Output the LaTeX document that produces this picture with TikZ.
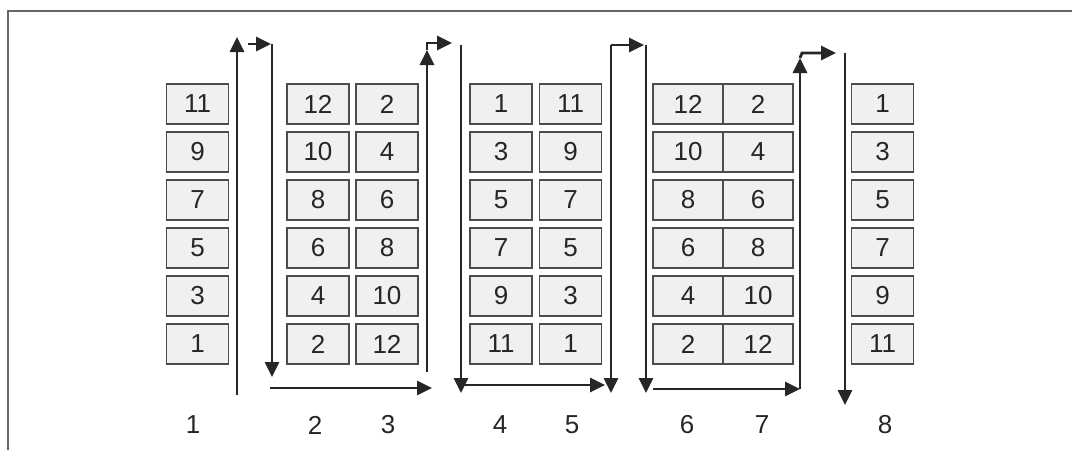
\documentclass[tikz,border=0pt]{standalone}
\usepackage{fontspec}
\setmainfont{Liberation Sans}
\usetikzlibrary{arrows.meta}
\begin{document}
\begin{tikzpicture}[x=1pt,y=-1pt,
  cell/.style={draw=black!70, line width=1.7pt, fill=black!6, minimum height=40pt, inner sep=0pt,
    font=\fontsize{26}{30}\selectfont, text=black!85},
  narrow/.style={cell, minimum width=62pt},
  wide/.style={cell, minimum width=70pt},
  lbl/.style={font=\fontsize{26}{30}\selectfont, text=black!85, inner sep=0pt},
  flow/.style={draw=black!85, line width=2.8pt, line join=miter},
  tip/.style={flow, -{Triangle[length=15pt,width=14pt]}},
  frame/.style={draw=black!60, line width=1.6pt}]
\useasboundingbox (0,0) rectangle (1072,450);
\draw[frame] (8,450) -- (8,11) -- (1072,11);
% columns of cells
\foreach \c/\x/\sty/\list in {1/197.5/narrow/{11,9,7,5,3,1},
                                2/318/narrow/{12,10,8,6,4,2},
                                3/387/narrow/{2,4,6,8,10,12},
                                4/501/narrow/{1,3,5,7,9,11},
                                5/570.5/narrow/{11,9,7,5,3,1},
                                6/688/wide/{12,10,8,6,4,2},
                                7/758/wide/{2,4,6,8,10,12},
                                8/882.5/narrow/{1,3,5,7,9,11}}{
  \foreach \v [count=\r] in \list {
    \node[\sty] (c\c-\r) at (\x,{104+48*(\r-1)}) {\v};
  }
}
% column labels
\node[lbl] (l1) at (193,425) {1};
\node[lbl] (l2) at (315,425) {2};
\node[lbl] (l3) at (388,425) {3};
\node[lbl] (l4) at (500,425) {4};
\node[lbl] (l5) at (572,425) {5};
\node[lbl] (l6) at (687,425) {6};
\node[lbl] (l7) at (762,425) {7};
\node[lbl] (l8) at (885,425) {8};
% arrow points
\coordinate (a1s) at (237,395); \coordinate (a1e) at (237,37);
\coordinate (a2s) at (248,44);  \coordinate (a2e) at (271,44);
\coordinate (a3s) at (272,44);  \coordinate (a3e) at (272,377);
\coordinate (a4s) at (270,388); \coordinate (a4e) at (432,388);
\coordinate (a5s) at (427,372); \coordinate (a5e) at (427,50);
\coordinate (a5k) at (427,43);  \coordinate (a5f) at (452,43);
\coordinate (a6s) at (461,45);  \coordinate (a6e) at (461,393);
\coordinate (a7s) at (461,385); \coordinate (a7e) at (605,385);
\coordinate (a8s) at (611,45);  \coordinate (a8e) at (611,393);
\coordinate (a8f) at (644,45);
\coordinate (a9s) at (646,45);  \coordinate (a9e) at (646,393);
\coordinate (a10s) at (653,389); \coordinate (a10e) at (800,389);
\coordinate (a11e) at (800,58);
\coordinate (a12k) at (802,53); \coordinate (a12f) at (836,53);
\coordinate (a13s) at (845,53); \coordinate (a13e) at (845,405);
% arrows
\draw[tip] (a1s) -- (a1e);
\draw[tip] (a2s) -- (a2e);
\draw[tip] (a3s) -- (a3e);
\draw[tip] (a4s) -- (a4e);
\draw[tip] (a5s) -- (a5e);
\draw[tip] (a5e) -- (a5k) -- (a5f);
\draw[tip] (a6s) -- (a6e);
\draw[tip] (a7s) -- (a7e);
\draw[tip] (a8s) -- (a8e);
\draw[tip] (a8s) -- (a8f);
\draw[tip] (a9s) -- (a9e);
\draw[tip] (a10s) -- (a10e);
\draw[tip] (a10e) -- (a11e);
\draw[tip] (a11e) -- (a12k) -- (a12f);
\draw[tip] (a13s) -- (a13e);
\end{tikzpicture}
\end{document}
